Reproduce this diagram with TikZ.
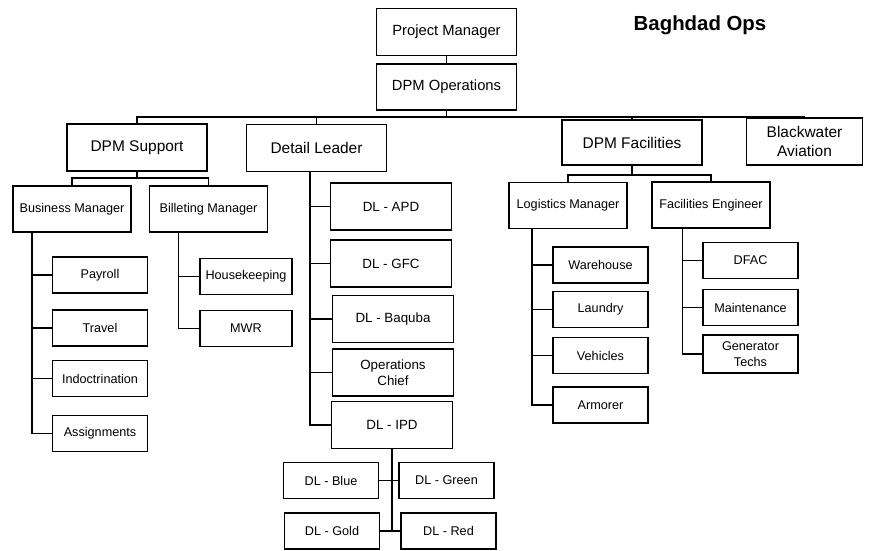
\documentclass[tikz,border=0pt]{standalone}
\usepackage{fontspec}
\setmainfont{Liberation Sans}
\usetikzlibrary{calc}

\tikzset{
  orgline/.style={line width=1.1pt},
  bigbox/.style={draw, orgline, minimum width=3.5cm, minimum height=1.18cm,
    inner sep=2pt, align=center, font=\fontsize{11}{13}\selectfont},
  topbox/.style={bigbox, font=\fontsize{10.5}{12.5}\selectfont},
  midbox/.style={draw, orgline, minimum width=2.95cm, minimum height=1.15cm,
    inner sep=2pt, align=center, font=\fontsize{9}{11}\selectfont},
  dlbox/.style={draw, orgline, minimum width=3.03cm, minimum height=1.18cm,
    inner sep=2pt, align=center, font=\fontsize{9.5}{11.5}\selectfont},
  leafbox/.style={draw, orgline, minimum width=2.38cm, minimum height=0.9cm,
    inner sep=2pt, align=center, font=\fontsize{9}{11}\selectfont},
  titletext/.style={font=\fontsize{14.5}{17}\selectfont\bfseries}
}

\begin{document}
\begin{tikzpicture}[x=0.025cm, y=-0.025cm]
  \useasboundingbox (0,0) rectangle (879,551);

  % ---------- top of the chart ----------
  \node[titletext] (title) at (700,25) {Baghdad Ops};
  \node[topbox] (pm)  at (446.5,32) {Project Manager};
  \node[topbox, minimum height=1.15cm] (ops) at (446.5,87) {DPM Operations};

  \node[bigbox] (sup) at (137,147.5) {DPM Support};
  \node[bigbox] (dl)  at (316.5,148) {Detail Leader};
  \node[bigbox, minimum height=1.13cm] (fac) at (632,142.5) {DPM Facilities};
  \node[bigbox, minimum width=2.9cm] (bw) at (804.5,141.5) {Blackwater\\Aviation};

  % ---------- managers ----------
  \node[midbox] (bm)  at (72,209)    {Business Manager};
  \node[midbox] (bil) at (208.5,209) {Billeting Manager};
  \node[midbox] (log) at (568,205.5) {Logistics Manager};
  \node[midbox] (fe)  at (711,205)   {Facilities Engineer};

  % ---------- support side ----------
  \node[leafbox] (payroll) at (100,275)   {Payroll};
  \node[leafbox] (travel)  at (100,328)   {Travel};
  \node[leafbox] (indoc)   at (100,378.5) {Indoctrination};
  \node[leafbox] (assign)  at (100,433.5) {Assignments};
  \node[leafbox, minimum width=2.3cm] (house) at (246,276.5) {Housekeeping};
  \node[leafbox, minimum width=2.3cm] (mwr)   at (246,328.5) {MWR};

  % ---------- detail leaders ----------
  \node[dlbox] (apd)     at (391,206.5) {DL - APD};
  \node[dlbox] (gfc)     at (391,263.5) {DL - GFC};
  \node[dlbox] (baq)     at (393,319)   {DL - Baquba};
  \node[dlbox] (opchief) at (393,372.5) {Operations\\Chief};
  \node[dlbox] (ipd)     at (392,425)   {DL - IPD};

  \node[leafbox] (blue)  at (331,480.5)   {DL - Blue};
  \node[leafbox] (green) at (446.5,480.5) {DL - Green};
  \node[leafbox] (gold)  at (332,531)     {DL - Gold};
  \node[leafbox] (red)   at (448.5,531)   {DL - Red};

  % ---------- facilities side ----------
  \node[leafbox] (wh)      at (600.5,265)   {Warehouse};
  \node[leafbox] (laundry) at (600.5,309.5) {Laundry};
  \node[leafbox] (veh)     at (600.5,355.5) {Vehicles};
  \node[leafbox] (armorer) at (600.5,405)   {Armorer};
  \node[leafbox] (dfac)    at (750.5,260.5) {DFAC};
  \node[leafbox] (maint)   at (750.5,307.5) {Maintenance};
  \node[leafbox, minimum height=0.95cm] (gen) at (750.5,354) {Generator\\Techs};

  % ---------- connectors ----------
  \coordinate (topbus) at (0,117);
  \coordinate (supbus) at (0,178);
  \coordinate (facbus) at (0,175);

  \draw[orgline] (pm) -- (ops);
  \draw[orgline] (ops.south) -- (ops.south |- topbus);
  \draw[orgline] (sup.north) |- (bw.north |- topbus) -- (bw.north);
  \foreach \n in {dl,fac}
    \draw[orgline] (\n.north) -- (\n.north |- topbus);

  \draw[orgline] (sup.south) -- (sup.south |- supbus);
  \draw[orgline] (bm.north) |- (bil.north |- supbus) -- (bil.north);
  \draw[orgline] (fac.south) -- (fac.south |- facbus);
  \draw[orgline] (log.north) |- (fe.north |- facbus) -- (fe.north);

  \coordinate (bmtrunk)  at ([xshift=0.5cm]bm.south west);
  \coordinate (biltrunk) at ([xshift=0.75cm]bil.south west);
  \coordinate (dltrunk)  at ([xshift=1.6cm]dl.south west);
  \coordinate (logtrunk) at ([xshift=0.6cm]log.south west);
  \coordinate (fetrunk)  at ([xshift=0.78cm]fe.south west);

  \foreach \c in {payroll,travel,indoc,assign}
    \draw[orgline] (bmtrunk) |- (\c.west);
  \foreach \c in {house,mwr}
    \draw[orgline] (biltrunk) |- (\c.west);
  \foreach \c in {apd,gfc,baq,opchief,ipd}
    \draw[orgline] (dltrunk) |- (\c.west);
  \foreach \c in {wh,laundry,veh,armorer}
    \draw[orgline] (logtrunk) |- (\c.west);
  \foreach \c in {dfac,maint,gen}
    \draw[orgline] (fetrunk) |- (\c.west);

  \draw[orgline] (ipd.south) -- (ipd.south |- gold.east);
  \draw[orgline] (blue.east) -- (green.west);
  \draw[orgline] (gold.east) -- (red.west);
\end{tikzpicture}
\end{document}
